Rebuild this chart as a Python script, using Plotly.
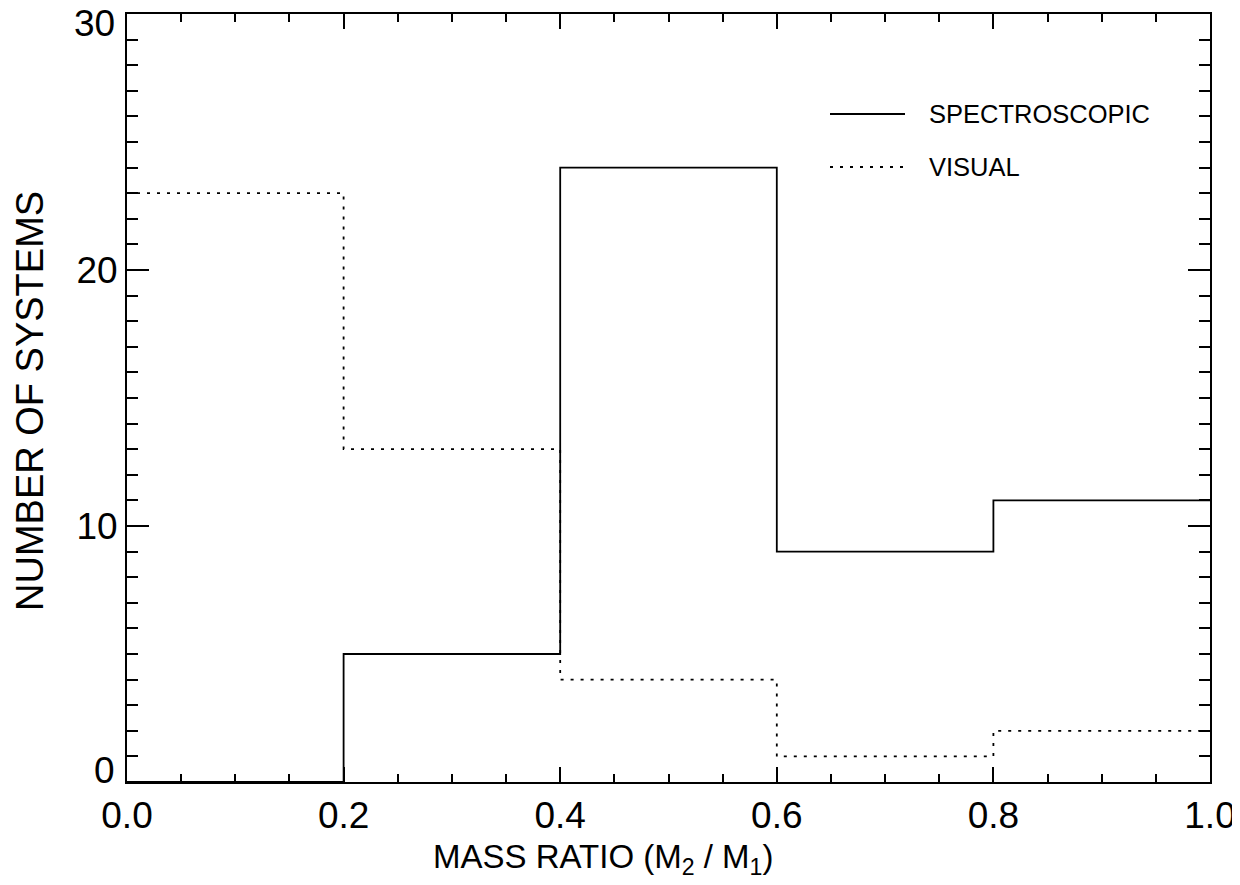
import plotly.graph_objects as go

bin_edges = [0.0, 0.2, 0.4, 0.6, 0.8, 1.0]
spectroscopic = [0, 5, 24, 9, 11]
visual = [23, 13, 4, 1, 2]
x_ticks = [0.0, 0.2, 0.4, 0.6, 0.8, 1.0]
y_ticks = [0, 10, 20, 30]

FONT = "Liberation Sans, Arial, Helvetica, sans-serif"
DOT = "3px,7px"

fig = go.Figure()
fig.add_trace(go.Scatter(x=bin_edges, y=spectroscopic + [spectroscopic[-1]],
                         mode="lines", line=dict(color="black", width=1.8, shape="hv"),
                         name="SPECTROSCOPIC", showlegend=False))
fig.add_trace(go.Scatter(x=bin_edges, y=visual + [visual[-1]],
                         mode="lines", line=dict(color="black", width=1.8, shape="hv", dash=DOT),
                         name="VISUAL", showlegend=False))

# page has an 8px body margin; compensate
OFF = 8
W, H = 1240 - OFF, 885 - OFF
L, T = 127 - OFF, 14 - OFF
R, B = 30, 103
pw, ph = W - L - R, H - T - B
def px_x(p): return (p - OFF - L) / pw
def px_y(p): return 1 - (p - OFF - T) / ph

fig.add_shape(type="line", xref="paper", yref="paper",
              x0=px_x(830), x1=px_x(905), y0=px_y(114), y1=px_y(114),
              line=dict(color="black", width=1.8))
fig.add_shape(type="line", xref="paper", yref="paper",
              x0=px_x(830), x1=px_x(905), y0=px_y(167), y1=px_y(167),
              line=dict(color="black", width=1.8, dash=DOT))
fig.add_annotation(xref="paper", yref="paper", x=px_x(927), y=px_y(114),
                   text="SPECTROSCOPIC", showarrow=False, xanchor="left", yanchor="middle",
                   font=dict(family=FONT, size=25.5, color="black"))
fig.add_annotation(xref="paper", yref="paper", x=px_x(927), y=px_y(167),
                   text="VISUAL", showarrow=False, xanchor="left", yanchor="middle",
                   font=dict(family=FONT, size=25.5, color="black"))

# axis titles
fig.add_annotation(xref="paper", yref="paper", x=px_x(603), y=px_y(859),
                   text="MASS RATIO (M<sub>2</sub> / M<sub>1</sub>)", showarrow=False,
                   xanchor="center", yanchor="middle",
                   font=dict(family=FONT, size=33, color="black"))
fig.add_annotation(xref="paper", yref="paper", x=px_x(30), y=px_y(401),
                   text="NUMBER OF SYSTEMS", showarrow=False, textangle=-90,
                   xanchor="center", yanchor="middle",
                   font=dict(family=FONT, size=38, color="black"))

# end labels of the y axis are nudged inward (as in the original plot)
y_ticktext = ["" if v in (y_ticks[0], y_ticks[-1]) else str(v) for v in y_ticks]
for v, shift in ((y_ticks[0], 12), (y_ticks[-1], -9)):
    fig.add_annotation(xref="paper", yref="y", x=px_x(117), y=v, yshift=shift,
                       text=str(v), showarrow=False, xanchor="right", yanchor="middle",
                       font=dict(family=FONT, size=37, color="black"))

fig.update_xaxes(range=[0, 1], tickvals=x_ticks, tickformat=".1f",
                 ticks="inside", ticklen=15, tickwidth=1.5, tickcolor="black",
                 minor=dict(dtick=0.05, ticks="inside", ticklen=8, tickwidth=1.5, tickcolor="black"),
                 showline=True, linecolor="black", linewidth=2, mirror="allticks",
                 showgrid=False, zeroline=False, ticklabeloverflow="allow", automargin=False,
                 tickfont=dict(family=FONT, size=37, color="black"))
fig.update_yaxes(range=[0, 30], tickvals=y_ticks, ticktext=y_ticktext,
                 ticks="inside", ticklen=22, tickwidth=1.5, tickcolor="black",
                 minor=dict(dtick=1, ticks="inside", ticklen=11, tickwidth=1.5, tickcolor="black"),
                 showline=True, linecolor="black", linewidth=2, mirror="allticks",
                 showgrid=False, zeroline=False, ticklabeloverflow="allow", automargin=False,
                 tickfont=dict(family=FONT, size=37, color="black"))

fig.update_layout(width=W, height=H, margin=dict(l=L, r=R, t=T, b=B, autoexpand=False),
                  plot_bgcolor="white", paper_bgcolor="white", showlegend=False)

fig.write_html("out.html")
